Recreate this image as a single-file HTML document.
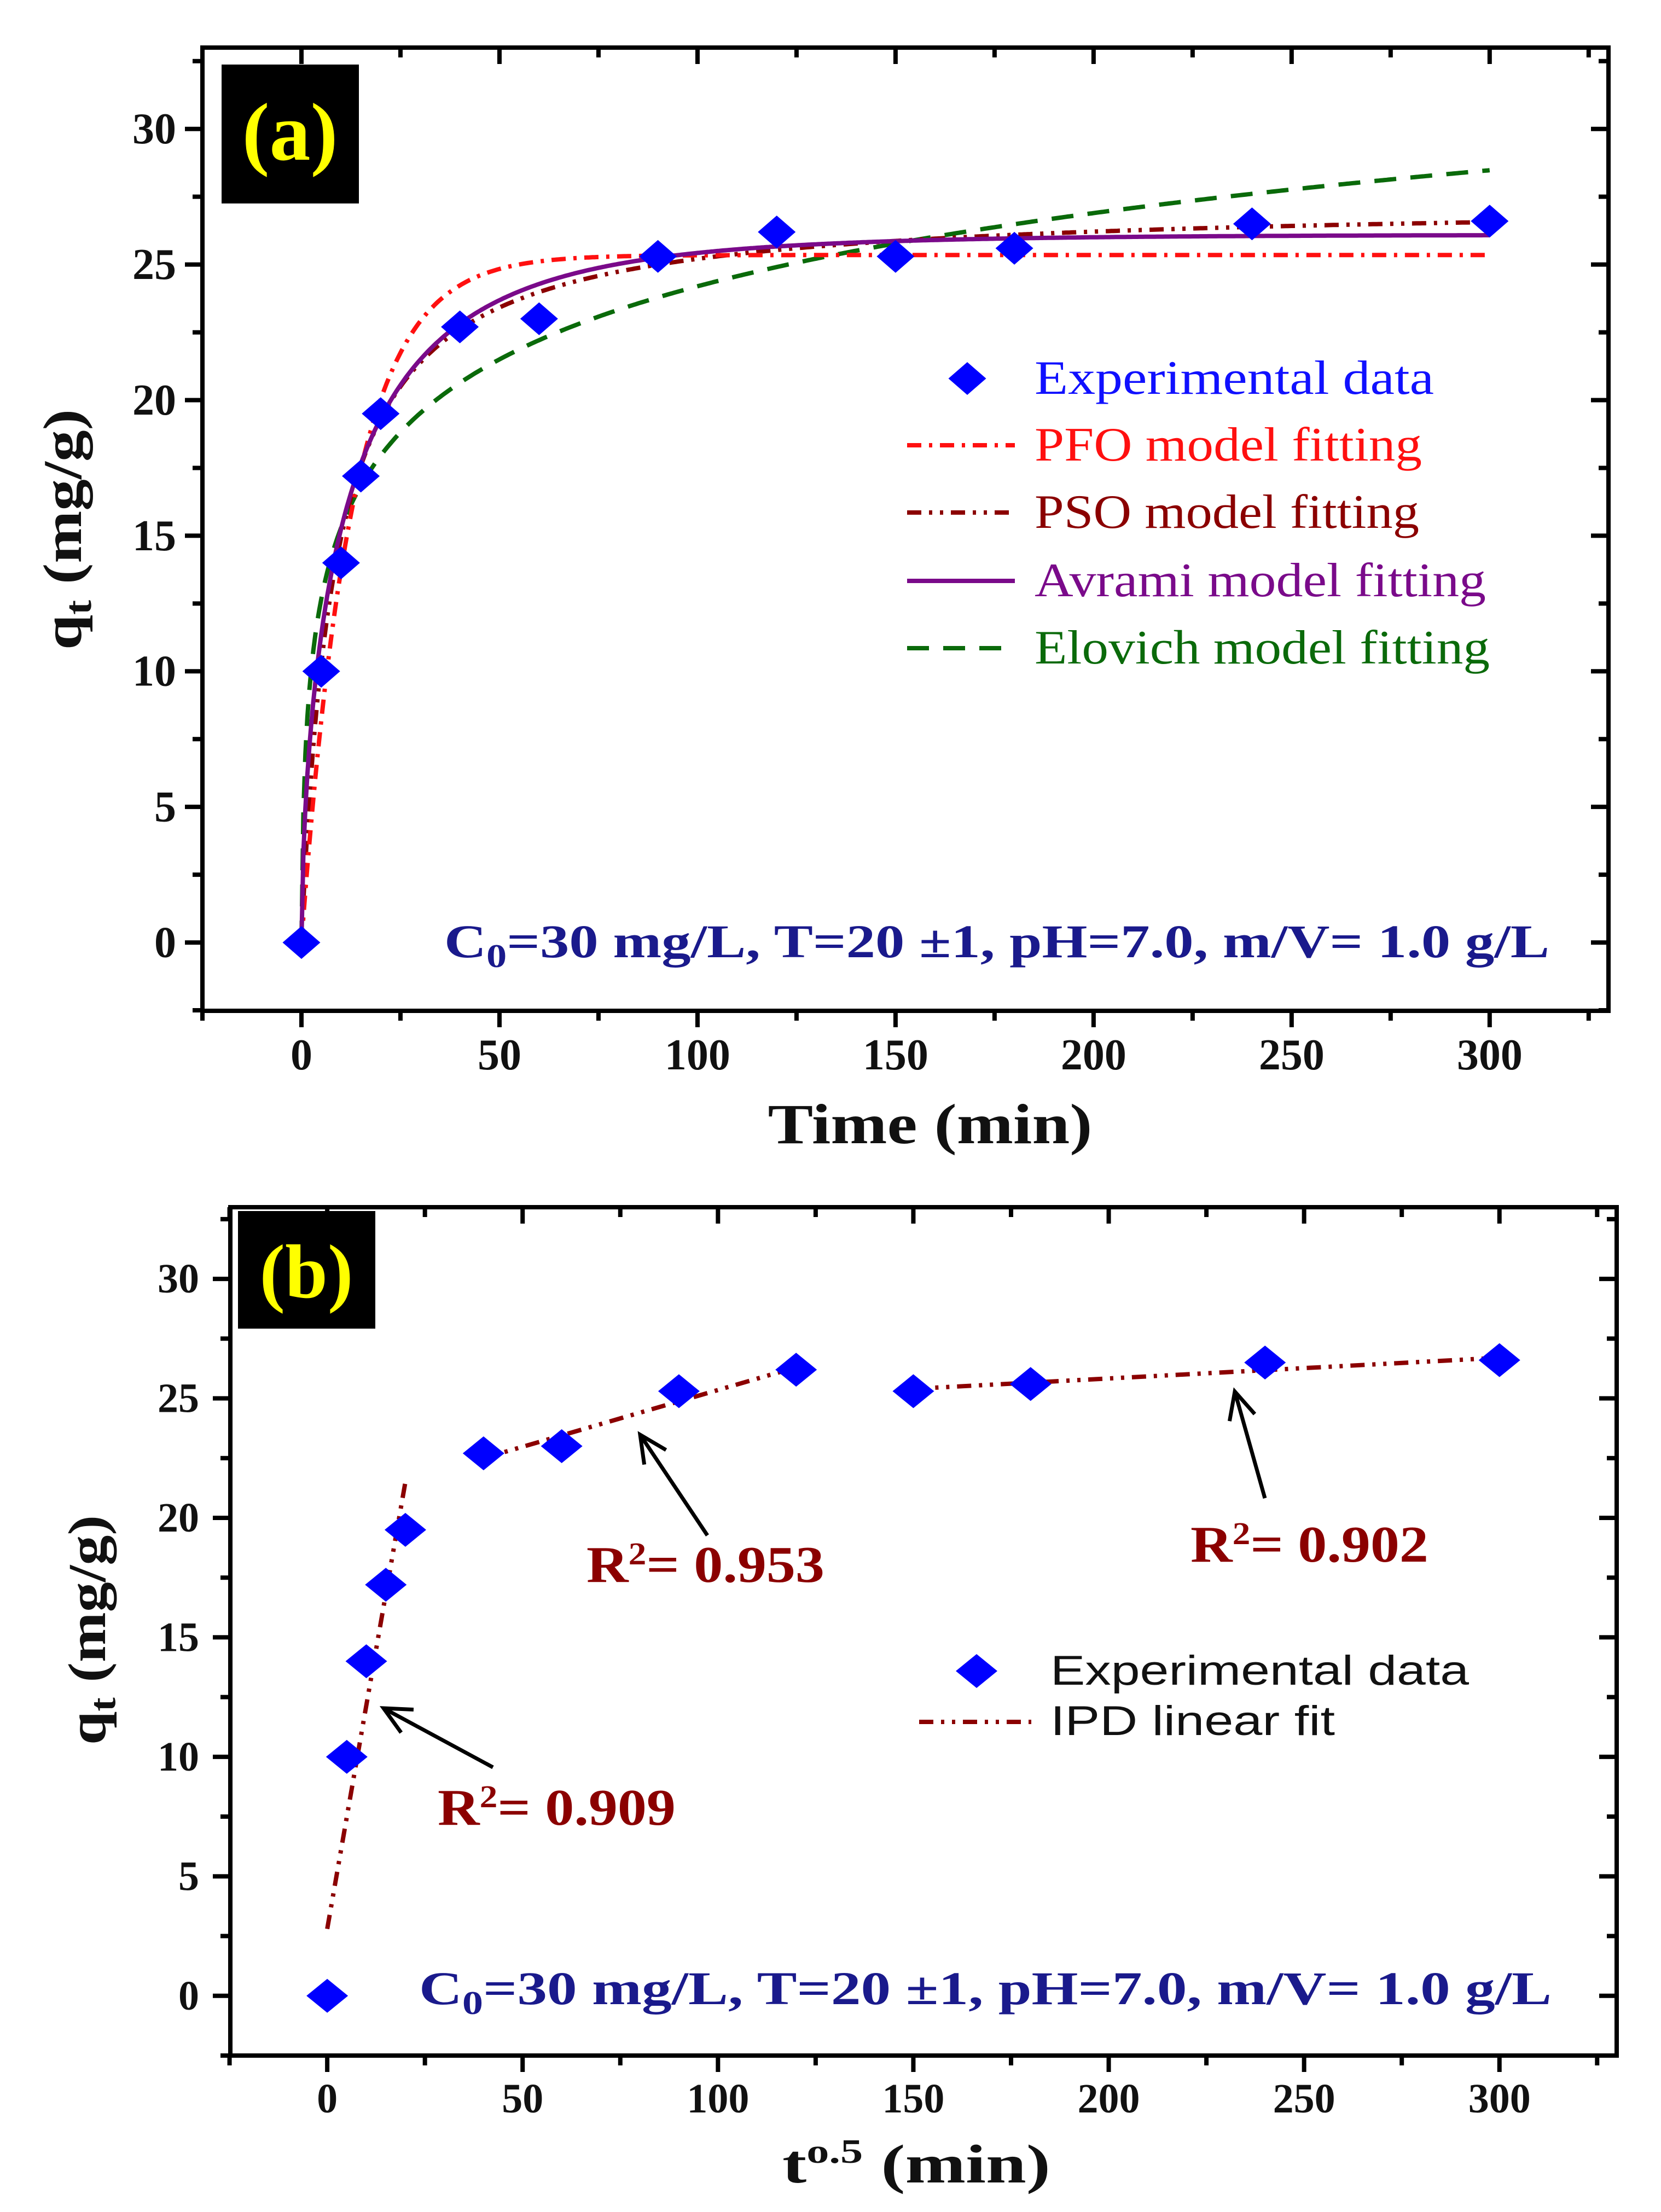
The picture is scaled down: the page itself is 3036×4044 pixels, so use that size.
<!DOCTYPE html>
<html><head><meta charset="utf-8"><style>
html,body{margin:0;padding:0;background:#fff;}
svg{display:block;}
</style></head><body>
<svg id="fig" width="3036" height="4044" viewBox="0 0 3036 4044" xmlns="http://www.w3.org/2000/svg" font-family="Liberation Serif, serif">
<rect x="0" y="0" width="3036" height="4044" fill="#ffffff"/>
<g id="pa"></g>
<g id="pb"></g>
</svg>
<script>
// ---- data ----
const timeValues = [0,5,10,15,20,40,60,90,120,150,180,240,300];
const qtValues = [0,10,14,17.2,19.5,22.7,23,25.3,26.2,25.3,25.6,26.5,26.6];
const xTickLabels = [0,50,100,150,200,250,300];
const yTickLabels = [0,5,10,15,20,25,30];
const pfoParams = [25.35, 0.078];          // qe, k1
const psoParams = [27.3, 0.1206];          // qe, qe*k2
const avramiParams = [26.1, 0.081, 0.62];  // qe, k, n
const elovichParams = [3.9, 4.94];         // 1/beta, alpha*beta
const ipdSeg1 = [0, 2.8, 20, 21.5];
const ipdSeg2 = [40, 22.5, 120, 26.3];
const ipdSeg3 = [150, 25.4, 300, 26.7];

const NS='http://www.w3.org/2000/svg';
function mk(parent,tag,attrs,txt){const e=document.createElementNS(NS,tag);for(const k in attrs)e.setAttribute(k,attrs[k]);if(txt!==undefined)e.textContent=txt;parent.appendChild(e);return e;}

function axes(g,c){
  const sx=v=>c.x0+(v-c.xmin)/(c.xmax-c.xmin)*(c.x1-c.x0);
  const sy=v=>c.y1-(v-c.ymin)/(c.ymax-c.ymin)*(c.y1-c.y0);
  const fr=mk(g,'rect',{x:c.x0,y:c.y0,width:c.x1-c.x0,height:c.y1-c.y0,fill:'none',stroke:'#000','stroke-width':8});
  
  
  for(let v=-25;v<=330;v+=25){
    const major=(v%50===0);const L=major?30:18;const x=sx(v);
    const t1=mk(g,'line',{x1:x,y1:c.y1,x2:x,y2:c.y1+L,stroke:'#000','stroke-width':8});
    
    
    mk(g,'line',{x1:x,y1:c.y0,x2:x,y2:c.y0+L,stroke:'#000','stroke-width':8});
  }
  for(let v=-2.5;v<=32.5;v+=2.5){
    const major=(Math.abs(v%5)<1e-6);const L=major?32:18;const y=sy(v);
    const t2=mk(g,'line',{x1:c.x0-L,y1:y,x2:c.x0,y2:y,stroke:'#000','stroke-width':8});
    
    
    mk(g,'line',{x1:c.x1-L,y1:y,x2:c.x1,y2:y,stroke:'#000','stroke-width':8});
  }
  xTickLabels.forEach(v=>{
    const t=mk(g,'text',{x:sx(v),y:c.xly,'font-size':c.tfs,'font-weight':'bold','text-anchor':'middle','fill':'#111'},String(v));
    
    
  });
  yTickLabels.forEach(v=>{
    const t=mk(g,'text',{x:c.ylx,y:sy(v)+c.tfs*0.33,'font-size':c.tfs,'font-weight':'bold','text-anchor':'end','fill':'#111'},String(v));
    
    
  });
  return {sx,sy};
}
function diamond(g,x,y,w,h){
  return mk(g,'polygon',{points:`${x},${y-h/2} ${x+w/2},${y} ${x},${y+h/2} ${x-w/2},${y}`,fill:'#0000ff'});
}
function curve(g,sx,sy,f,color,dash,name){
  let pts=[];
  for(let i=0;i<=600;i++){const t=i*0.5;pts.push(sx(t).toFixed(1)+','+sy(f(t)).toFixed(1));}
  const p=mk(g,'polyline',{points:pts.join(' '),fill:'none',stroke:color,'stroke-width':8,'stroke-dasharray':dash});
  
  
}

// ---- panel a ----
const ga=document.getElementById('pa');
const A=axes(ga,{x0:370,x1:2940,y0:87,y1:1848,xmin:-25,xmax:330,ymin:-2.52,ymax:33,tfs:80,xly:1955,ylx:322});
curve(ga,A.sx,A.sy,t=>elovichParams[0]*Math.log(1+elovichParams[1]*t),'#0a6a0a','40 26','elovich-curve');
curve(ga,A.sx,A.sy,t=>psoParams[0]*psoParams[1]*t/(1+psoParams[1]*t),'#8b0000','26 14 6 14 6 14','pso-curve');
curve(ga,A.sx,A.sy,t=>pfoParams[0]*(1-Math.exp(-pfoParams[1]*t)),'#ff1010','26 14 6 14','pfo-curve');
curve(ga,A.sx,A.sy,t=>avramiParams[0]*(1-Math.exp(-Math.pow(avramiParams[1]*t,avramiParams[2]))),'#7a0a8a','','avrami-curve');
timeValues.forEach((t,i)=>{
  const d=diamond(ga,A.sx(t),A.sy(qtValues[i]),69,60);
  
  
});
</script>
<script>
// legend / labels panel a
(function(){
const g=document.getElementById('pa');
function T(x,y,s,fs,col,name,extra){const t=mk(g,'text',Object.assign({x:x,y:y,'font-size':fs,fill:col},extra||{}),s);return t;}
const lb=mk(g,'rect',{x:405,y:118,width:251,height:254,fill:'#000'});


T(530,292,'(a)',150,'#ffff00','panel-a-label',{'font-weight':'bold','text-anchor':'middle'});
const rows=[692,814,937,1062,1185];
const dgm=diamond(g,1768,rows[0],69,60);


const styles=[['#ff1010','26 14 6 14'],['#8b0000','26 14 6 14 6 14'],['#7a0a8a',''],['#0a6a0a','40 26']];
styles.forEach((s,i)=>{const l=mk(g,'line',{x1:1658,y1:rows[i+1],x2:1855,y2:rows[i+1],stroke:s[0],'stroke-width':8,'stroke-dasharray':s[1]});

});
const names=['Experimental data','PFO model fitting','PSO model fitting','Avrami model fitting','Elovich model fitting'];
const cols=['#1010ff','#ff1010','#8b0000','#7a0a8a','#0a6a0a'];
const lens=[730,708,703,825,832];
names.forEach((n,i)=>T(1891,rows[i]+28,n,88,cols[i],'legend-entry',{textLength:lens[i],lengthAdjust:'spacingAndGlyphs'}));
const c=T(812,1750,'',86,'#1a1a8c','conditions-text',{'font-weight':'bold',textLength:2020,lengthAdjust:'spacingAndGlyphs'});
c.innerHTML='C<tspan font-size="60" dy="18">0</tspan><tspan dy="-18">=30 mg/L, T=20 ±1, pH=7.0,  m/V= 1.0 g/L</tspan>';
T(1700,2090,'Time (min)',104,'#111','x-axis-title',{'font-weight':'bold','text-anchor':'middle',textLength:593,lengthAdjust:'spacingAndGlyphs'});
const yt=T(0,0,'',100,'#111','y-axis-title',{'font-weight':'bold','text-anchor':'middle','transform':'translate(148,968) rotate(-90)',textLength:440,lengthAdjust:'spacingAndGlyphs'});
yt.innerHTML='q<tspan font-size="70" dy="18">t</tspan><tspan dy="-18"> (mg/g)</tspan>';
})();
</script>
<script>
// panel b
(function(){
const g=document.getElementById('pb');
const B=axes(g,{x0:421,x1:2955,y0:2207,y1:3758,xmin:-24.8,xmax:330,ymin:-2.5,ymax:33,tfs:76,xly:3862,ylx:364});
[ipdSeg1,ipdSeg2,ipdSeg3].forEach(s=>{
  const l=mk(g,'line',{x1:B.sx(s[0]),y1:B.sy(s[1]),x2:B.sx(s[2]),y2:B.sy(s[3]),stroke:'#8b0000','stroke-width':8,'stroke-dasharray':'26 14 6 14 6 14'});
  
  
});
timeValues.forEach((t,i)=>{
  const d=diamond(g,B.sx(t),B.sy(qtValues[i]),76,62);
  
  
});
function T(x,y,s,fs,col,name,extra){const t=mk(g,'text',Object.assign({x:x,y:y,'font-size':fs,fill:col},extra||{}),s);return t;}
const lb=mk(g,'rect',{x:435,y:2214,width:251,height:215,fill:'#000'});


T(560,2372,'(b)',140,'#ffff00','panel-b-label',{'font-weight':'bold','text-anchor':'middle'});
const dg=diamond(g,1785,3055,76,62);


const ll=mk(g,'line',{x1:1680,y1:3148,x2:1885,y2:3148,stroke:'#8b0000','stroke-width':8,'stroke-dasharray':'26 14 6 14 6 14'});


T(1920,3080,'Experimental data',76,'#111','legend-entry',{'font-family':'Liberation Sans, sans-serif',textLength:765,lengthAdjust:'spacingAndGlyphs'});
T(1920,3172,'IPD linear fit',76,'#111','legend-entry',{'font-family':'Liberation Sans, sans-serif',textLength:520,lengthAdjust:'spacingAndGlyphs'});
const arrows=[[901,3231,701,3123],[1293,2807,1170,2623],[2312,2739,2257,2544]];
arrows.forEach(a=>{
  const l=mk(g,'line',{x1:a[0],y1:a[1],x2:a[2],y2:a[3],stroke:'#000','stroke-width':7});
  
  
  const ang=Math.atan2(a[3]-a[1],a[2]-a[0]);const L=55,W=0.45;
  const p1=[a[2]-L*Math.cos(ang-W),a[3]-L*Math.sin(ang-W)],p2=[a[2]-L*Math.cos(ang+W),a[3]-L*Math.sin(ang+W)];
  const h=mk(g,'polyline',{points:`${p1} ${a[2]},${a[3]} ${p2}`,fill:'none',stroke:'#000','stroke-width':7});
  
  
});
const r=[[800,3336,'0.909'],[1072,2892,'0.953'],[2176,2855,'0.902']];
r.forEach(v=>{const t=T(v[0],v[1],'',94,'#8b0000','r-squared-label',{'font-weight':'bold',textLength:435,lengthAdjust:'spacingAndGlyphs'});
t.innerHTML='R<tspan font-size="58" dy="-32">2</tspan><tspan dy="32">= '+v[2]+'</tspan>';});
const c=T(766,3664,'',86,'#1a1a8c','conditions-text',{'font-weight':'bold',textLength:2070,lengthAdjust:'spacingAndGlyphs'});
c.innerHTML='C<tspan font-size="60" dy="18">0</tspan><tspan dy="-18">=30 mg/L, T=20 ±1, pH=7.0,  m/V= 1.0 g/L</tspan>';
const xt=T(1675,3990,'',100,'#111','x-axis-title',{'font-weight':'bold','text-anchor':'middle',textLength:490,lengthAdjust:'spacingAndGlyphs'});
xt.innerHTML='t<tspan font-size="62" dy="-36">o.5</tspan><tspan dy="36"> (min)</tspan>';
const yt=T(0,0,'',98,'#111','y-axis-title',{'font-weight':'bold','text-anchor':'middle','transform':'translate(192,2980) rotate(-90)',textLength:420,lengthAdjust:'spacingAndGlyphs'});
yt.innerHTML='q<tspan font-size="68" dy="18">t</tspan><tspan dy="-18"> (mg/g)</tspan>';
})();
</script>
</body></html>
